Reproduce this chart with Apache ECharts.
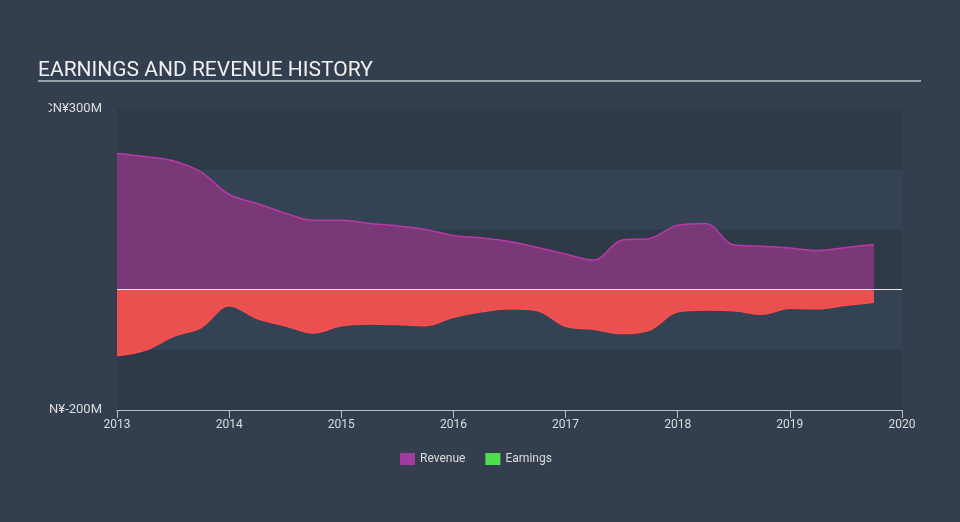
<!DOCTYPE html>
<html>
<head>
<meta charset="utf-8">
<script src="https://cdn.jsdelivr.net/npm/echarts@6/dist/echarts.min.js"></script>
<style>
html,body{margin:0;padding:0;background:#333f4f;}
#c{width:960px;height:522px;}
</style>
</head>
<body>
<div id="c"></div>
<script>
const periods = [2013, 2013.25, 2013.5, 2013.75, 2014, 2014.25, 2014.5, 2014.75,
  2015, 2015.25, 2015.5, 2015.75, 2016, 2016.25, 2016.5, 2016.75,
  2017, 2017.25, 2017.5, 2017.75, 2018, 2018.25, 2018.5, 2018.75,
  2019, 2019.25, 2019.5, 2019.75];
const revenue = [226, 221, 214, 195, 158, 143, 127, 115,
  115, 110, 106, 100, 90, 86, 80, 70,
  59, 49, 82, 85, 107, 110, 74, 72,
  69, 65, 70, 75];
const earnings = [-110, -101, -78, -63, -27, -48, -60, -72,
  -60, -57, -58, -60, -46, -37, -32, -35,
  -61, -66, -73, -67, -37, -34, -35, -41,
  -31, -32, -26, -21];
const yTicks = [-200, 300];
const title = 'EARNINGS AND REVENUE HISTORY';

const chart = echarts.init(document.getElementById('c'));
const pair = (xs, ys) => xs.map((x, i) => [x, ys[i]]);
chart.setOption({
  backgroundColor: '#333f4f',
  animation: false,
  title: {
    text: title, left: 33, top: 55,
    textStyle: {color: '#f0f0f0', fontSize: 21, fontWeight: 'normal', fontFamily: 'Roboto'}
  },
  legend: {
    bottom: 52, left: 395, itemWidth: 15, itemHeight: 12, itemGap: 20,
    icon: 'rect',
    textStyle: {color: '#dddddd', fontSize: 12, fontFamily: 'Roboto'},
    data: [
      {name: 'Revenue', itemStyle: {color: '#a33a9e'}},
      {name: 'Earnings', itemStyle: {color: '#4ce04c'}}
    ]
  },
  graphic: [
    {type: 'rect', z: 100, shape: {x: 38, y: 80, width: 883, height: 2}, style: {fill: '#9aa0a8'}},
    {type: 'rect', z: 100, shape: {x: 0, y: 95, width: 48.5, height: 330}, style: {fill: '#333f4f'}}
  ],
  grid: {left: 117, right: 58, top: 109, bottom: 112},
  xAxis: {
    type: 'value', min: 2013, max: 2020, interval: 1,
    axisLine: {show: true, onZero: false, lineStyle: {color: '#b8bec6', width: 1}},
    axisTick: {show: true, length: 8, lineStyle: {color: '#b8bec6'}},
    axisLabel: {color: '#dddddd', fontSize: 12, fontFamily: 'Roboto', margin: 9,
      formatter: v => String(v)},
    splitLine: {show: false}
  },
  yAxis: {
    type: 'value', min: -200, max: 300, interval: 100,
    axisLine: {show: false}, axisTick: {show: false},
    axisLabel: {color: '#dddddd', fontSize: 13, fontFamily: 'Roboto', margin: 15,
      formatter: v => yTicks.includes(v) ? 'CN¥' + v + 'M' : ''},
    splitLine: {show: false},
    splitArea: {show: true, areaStyle: {color: ['#2e3a48', '#344353']}}
  },
  series: [
    {
      name: 'Revenue', type: 'line', smooth: 0.35, symbol: 'none',
      data: pair(periods, revenue),
      lineStyle: {color: '#b83aa8', width: 1.5},
      itemStyle: {color: '#a33a9e'},
      areaStyle: {color: '#7b3876', opacity: 1, origin: 0},
      z: 2
    },
    {
      name: 'Earnings', type: 'line', smooth: 0.35, symbol: 'none',
      data: pair(periods, earnings),
      lineStyle: {color: '#ff4d4d', width: 1.5},
      itemStyle: {color: '#4ce04c'},
      areaStyle: {color: '#ea5050', opacity: 1, origin: 0},
      z: 2,
      markLine: {
        silent: true, symbol: 'none', label: {show: false},
        lineStyle: {color: '#e8e8e8', type: 'solid', width: 1},
        data: [{yAxis: 0}]
      }
    }
  ]
});
</script>
</body>
</html>
